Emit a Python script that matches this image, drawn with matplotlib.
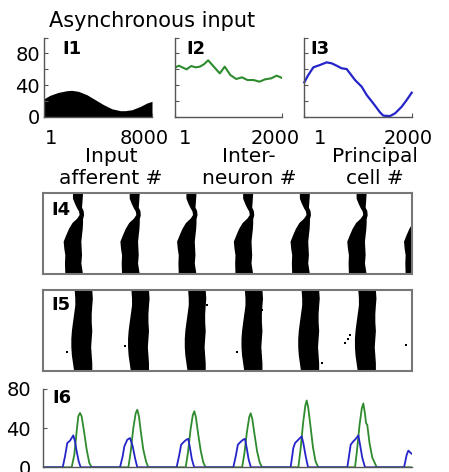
import matplotlib
matplotlib.use("Agg")
import matplotlib.pyplot as plt
import matplotlib.transforms as mtransforms

# ---------------- data ----------------
# I1: input afferent rates (afferent index, rate)
I1_IDX = [1, 446, 1066, 1685, 2056, 2551, 3171, 3790, 4409, 5029, 5649, 6020, 6515, 7134, 7630, 8000]
I1_RATE = [22.7, 27, 30.7, 32.8, 33.3, 32, 27.8, 21.5, 15.2, 10, 7.6, 7.6, 8.8, 13, 17.3, 19.4]

# I2: interneuron rates
I2_IDX = [1, 81, 143, 224, 310, 391, 471, 546, 626, 731, 843, 935, 1041, 1152, 1257, 1362,
          1474, 1585, 1690, 1802, 1907, 1981, 2000]
I2_RATE = [61.9, 64.4, 62.3, 59.8, 64, 62.3, 63.2, 66.1, 71.2, 63.2, 54.7, 63.2, 52.6, 47.6,
           49.7, 46.3, 46.3, 44.2, 47.2, 48.4, 51.8, 49.7, 49.0]

# I3: principal cell rates
I3_IDX = [1, 75, 169, 293, 417, 510, 603, 696, 789, 851, 945, 1069, 1162, 1286, 1410, 1472,
          1596, 1690, 1814, 1907, 2000]
I3_RATE = [43.4, 52.6, 62.3, 65.3, 68.6, 67.4, 64.4, 61.1, 60.2, 54.7, 46.3, 37.9, 27.4, 16.8,
           5.5, 1.3, 0.8, 4.2, 12.6, 21.1, 30.3]

# I4 / I5: raster bands (cycle onsets in ms, band edge profile relative to onset)
CYCLE_ONSETS = [0, 100, 200, 300, 400, 500, 600]
I4_N = [2000, 1877, 1753, 1647, 1564, 1465, 1366, 1259, 1119, 971, 807, 642, 477, 272, 0]
I4_LEFT = [52.9, 52.9, 56.4, 60.0, 63.5, 64.7, 60.0, 51.8, 45.8, 41.2, 36.5, 37.6, 39.4, 38.8, 39.4]
I4_RIGHT = [67.7, 67.1, 66.5, 65.9, 68.8, 69.5, 67.7, 67.7, 67.1, 65.9, 64.7, 65.3, 65.9, 64.7, 67.7]

I5_N = [2000, 1800, 1630, 1420, 1218, 1000, 807, 600, 395, 200, 0]
I5_LEFT = [56, 57, 57, 55, 53, 51, 50, 50, 51, 53, 55]
I5_RIGHT = [84, 85, 84, 83, 83, 84, 83, 82, 83, 84, 84]
I5_STRAY_T = [41, 144, 341, 532, 537, 541, 640, 491, 385, 288]
I5_STRAY_N = [476, 625, 476, 700, 800, 890, 640, 200, 1500, 1630]

# I6: population rates over time (ms, Hz)
I6_GREEN = [(0, 0), (50, 0), (54.7, 12.9), (58.8, 36.6), (61.7, 51.9), (64.7, 55.3), (67.6, 51.9),
            (71.8, 36.6), (76.5, 18), (81.1, 4.4), (85.3, 0),
            (150, 0), (154.1, 16), (158.7, 40), (162.9, 55), (165.7, 58.6), (168.6, 52), (172.2, 35),
            (176.3, 18), (181.1, 6), (185.1, 0),
            (251, 0), (255, 15), (259.5, 38), (263.5, 53), (266.2, 57), (269, 51), (273, 34),
            (277.5, 17), (282, 5), (286, 0),
            (350.5, 0), (354.5, 14), (359, 36), (363, 51), (365.6, 55), (368.5, 49), (372.5, 33),
            (377, 16), (381.5, 5), (385.5, 0),
            (449.6, 0), (453.5, 18), (458, 45), (462, 63), (464.4, 68), (467, 61), (471, 42),
            (475.5, 20), (480, 6), (484.8, 0),
            (549.5, 0), (553, 17), (557.5, 43), (561.5, 60), (564.2, 65), (567, 55), (569, 45),
            (571.2, 43), (575, 25), (580, 10), (587.8, 0), (650, 0)]
I6_BLUE = [(0, 0), (34.2, 0), (38.3, 11.2), (42.3, 24.7), (47.1, 27.1), (50, 29.8), (52.9, 32.5),
           (55.9, 26.4), (58.8, 16.3), (62.4, 6.1), (65.9, 0),
           (135.2, 0), (139.9, 11.2), (142.9, 21.4), (148.1, 28.1), (152.9, 29.8), (157.6, 21.4),
           (161.7, 9.5), (165.7, 0),
           (235, 0), (239.5, 12), (243, 23), (248, 26), (252, 28), (255.6, 29), (258.5, 20),
           (262, 8), (266, 0),
           (335, 0), (339.5, 12), (343, 23), (348, 26), (352, 28), (355.6, 29), (358.5, 20),
           (362, 8), (366, 0),
           (436, 0), (440.8, 19.7), (443.8, 24.7), (449.6, 28.1), (455.5, 31.5), (458.4, 24.7),
           (462.6, 11.2), (466.8, 0),
           (536, 0), (541.9, 23), (546.5, 26.4), (551, 29), (555.4, 32.5), (558.4, 23),
           (562.4, 9.5), (567.2, 0),
           (636, 0), (640.7, 12.9), (643.6, 17), (647.7, 14.6), (650, 13.6)]

GREEN = "#2e8b2e"
BLUE = "#2424c8"
SPINE = "#555555"

W, H = 449, 472
fig = plt.figure(figsize=(W / 100, H / 100), dpi=100)


def ax_at(x0, y0, x1, y1):
    return fig.add_axes([x0 / W, 1 - y1 / H, (x1 - x0) / W, (y1 - y0) / H])


def style_lb(ax):
    for s in ("top", "right"):
        ax.spines[s].set_visible(False)
    for s in ("left", "bottom"):
        ax.spines[s].set_color(SPINE)
        ax.spines[s].set_linewidth(1.0)


def shift_xlabels(ax, dxs):
    for lab, dx in zip(ax.get_xticklabels(), dxs):
        off = mtransforms.ScaledTranslation(dx / 100, 0, fig.dpi_scale_trans)
        lab.set_transform(lab.get_transform() + off)


TICKFS = 14
top_axes = [ax_at(44, 37.5, 152, 116.7), ax_at(174.7, 37.5, 281.7, 116.7), ax_at(304.3, 37.5, 411.7, 116.7)]
ax1, ax2, ax3 = top_axes

ax1.fill_between(I1_IDX, 0, I1_RATE, color="black", lw=0)
ax1.set_xlim(1, 8000)
ax2.plot(I2_IDX, I2_RATE, color=GREEN, lw=1.5)
ax2.set_xlim(1, 2000)
ax3.plot(I3_IDX, I3_RATE, color=BLUE, lw=1.6, clip_on=False)
ax3.set_xlim(1, 2000)

xlabs = [("1", "8000"), ("1", "2000"), ("1", "2000")]
xoffs = [(7, -8), (10, -6.5), (15.5, -4)]
for i, ax in enumerate(top_axes):
    style_lb(ax)
    ax.set_ylim(0, 100)
    ax.set_yticks([0, 20, 40, 60, 80, 100])
    if i == 0:
        ax.set_yticklabels(["0", "", "40", "", "80", ""])
    else:
        ax.set_yticklabels([])
    lo, hi = ax.get_xlim()
    ax.set_xticks([lo, hi])
    ax.set_xticklabels(list(xlabs[i]))
    ax.tick_params(axis="both", direction="in", length=3, color=SPINE, labelsize=TICKFS)
    ax.tick_params(axis="y", pad=3)
    ax.tick_params(axis="x", pad=9)
    shift_xlabels(ax, xoffs[i])

# x labels under top panels
for xc, l1, l2 in [(111, "Input", "afferent #"), (249, "Inter-", "neuron #"), (375, "Principal", "cell #")]:
    fig.text(xc / W, 1 - 161.7 / H, l1, ha="center", va="baseline", fontsize=14.5)
    fig.text(xc / W, 1 - 183.5 / H, l2, ha="center", va="baseline", fontsize=14.5)

fig.text(49 / W, 1 - 26.7 / H, "Asynchronous input", ha="left", va="baseline", fontsize=15)

# raster panels
ax4 = ax_at(43.3, 193, 412, 274)
ax5 = ax_at(43.3, 290, 412, 371)
for ax, N, L, R in [(ax4, I4_N, I4_LEFT, I4_RIGHT), (ax5, I5_N, I5_LEFT, I5_RIGHT)]:
    for c in CYCLE_ONSETS:
        ax.fill_betweenx(N, [c + v for v in L], [c + v for v in R], color="black", lw=1.2,
                         edgecolor="black")
    ax.set_xlim(0, 650)
    ax.set_ylim(0, 2000)
    ax.set_xticks([])
    ax.set_yticks([])
    for s in ax.spines.values():
        s.set_color("#777777")
        s.set_linewidth(1.5)
ax5.plot(I5_STRAY_T, I5_STRAY_N, "s", color="black", ms=1.8, mew=0)

# I6
ax6 = ax_at(43.3, 388.7, 412, 467.3)
g_t, g_v = zip(*I6_GREEN)
b_t, b_v = zip(*I6_BLUE)
ax6.plot(g_t, g_v, color=GREEN, lw=1.3)
ax6.plot(b_t, b_v, color=BLUE, lw=1.3)
ax6.set_xlim(0, 650)
ax6.set_ylim(0, 80)
style_lb(ax6)
ax6.set_xticks([])
ax6.set_yticks([0, 40, 80])
ax6.set_yticklabels(["0", "40", "80"])
ax6.tick_params(axis="y", direction="in", length=3, color=SPINE, labelsize=TICKFS, pad=9)

# panel labels
for x, y, s in [(62.7, 54.3, "I1"), (186, 54.3, "I2"), (310, 54.3, "I3"),
                (51.7, 214.7, "I4"), (51.7, 310, "I5"), (52.7, 403, "I6")]:
    fig.text(x / W, 1 - y / H, s, ha="left", va="baseline", fontsize=13, fontweight="bold")

fig.savefig("out.png", dpi=100)
